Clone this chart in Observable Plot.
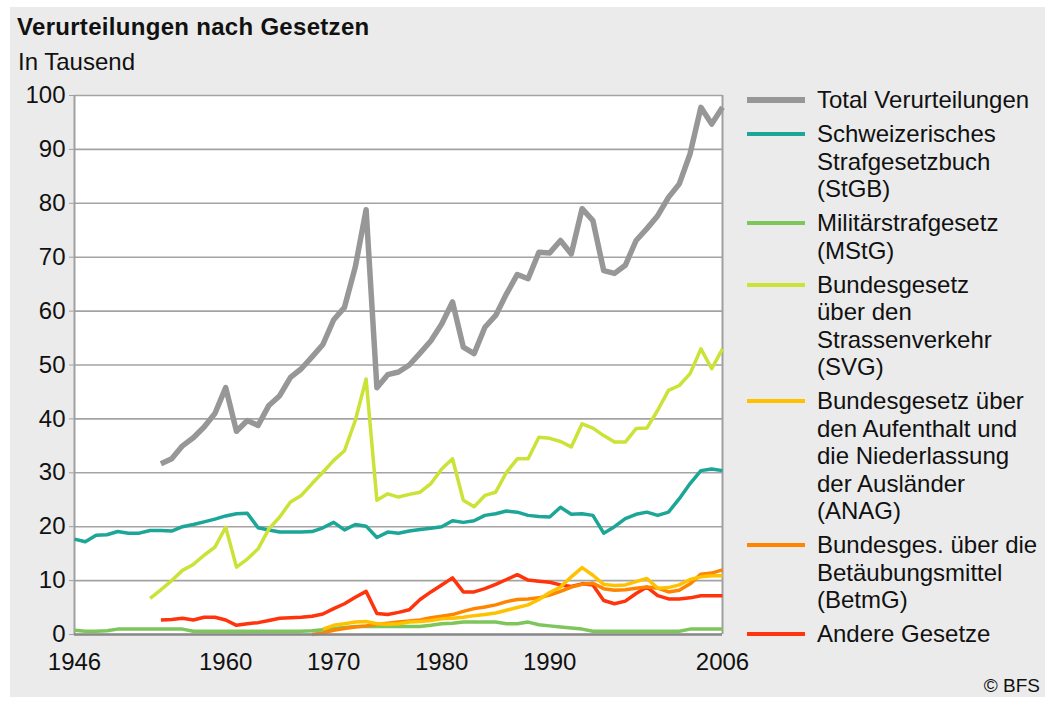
<!DOCTYPE html>
<html>
<head>
<meta charset="utf-8">
<script src="https://cdn.jsdelivr.net/npm/d3@7"></script>
<script src="https://cdn.jsdelivr.net/npm/@observablehq/plot@0.6"></script>
<style>
  html, body { margin: 0; padding: 0; background: #ffffff; }
  body { width: 1050px; height: 702px; position: relative; overflow: hidden;
         font-family: "Liberation Sans", Arial, sans-serif; color: #111; }
  #box { position: absolute; left: 10px; top: 7px; width: 1035px; height: 690px; background: #ebebeb; }
  #chart { position: absolute; left: 0; top: 0; }
  .title { position: absolute; left: 17px; top: 15px; font-size: 24px; line-height: 24px; font-weight: bold; letter-spacing: 0.3px; white-space: nowrap; }
  .subtitle { position: absolute; left: 18px; top: 50px; font-size: 24px; line-height: 24px; white-space: nowrap; }
  #legend { position: absolute; left: 747px; top: 86px; }
  .entry { display: flex; align-items: flex-start; margin-bottom: 6.5px; }
  .sw { width: 58px; margin-right: 12px; flex: none; }
  .lbl { font-size: 24px; line-height: 27.5px; white-space: nowrap; }
  .credit { position: absolute; right: 10px; top: 676px; font-size: 19px; line-height: 19px; white-space: nowrap; }
</style>
</head>
<body>
<div id="box"></div>
<div id="chart"></div>
<div class="title">Verurteilungen nach Gesetzen</div>
<div class="subtitle">In Tausend</div>
<div id="legend"></div>
<div class="credit">© BFS</div>
<script>
const years = [1946,1947,1948,1949,1950,1951,1952,1953,1954,1955,1956,1957,1958,1959,1960,1961,1962,1963,1964,1965,
  1966,1967,1968,1969,1970,1971,1972,1973,1974,1975,1976,1977,1978,1979,1980,1981,1982,1983,1984,1985,
  1986,1987,1988,1989,1990,1991,1992,1993,1994,1995,1996,1997,1998,1999,2000,2001,2002,2003,2004,2005,2006];

const xTicks = [1946, 1960, 1970, 1980, 1990, 2006];
const yTicks = [0, 10, 20, 30, 40, 50, 60, 70, 80, 90, 100];

const seriesNames = [
  "Total Verurteilungen",
  "Schweizerisches Strafgesetzbuch (StGB)",
  "Militärstrafgesetz (MStG)",
  "Bundesgesetz über den Strassenverkehr (SVG)",
  "Bundesgesetz über den Aufenthalt und die Niederlassung der Ausländer (ANAG)",
  "Bundesges. über die Betäubungsmittel (BetmG)",
  "Andere Gesetze"
];
const legendLines = [
  ["Total Verurteilungen"],
  ["Schweizerisches", "Strafgesetzbuch", "(StGB)"],
  ["Militärstrafgesetz", "(MStG)"],
  ["Bundesgesetz", "über den", "Strassenverkehr", "(SVG)"],
  ["Bundesgesetz über", "den Aufenthalt und", "die Niederlassung", "der Ausländer", "(ANAG)"],
  ["Bundesges. über die", "Betäubungsmittel", "(BetmG)"],
  ["Andere Gesetze"]
];
const colors = ["#979797", "#1ba697", "#7cc65c", "#cbe236", "#ffc200", "#ff8400", "#ff340c"];
const widths = [5.5, 3.5, 3.5, 3.5, 3.5, 3.5, 3.5];

const _ = null;
// values in thousands, one per year 1946–2006 (null = no data)
const total = [_,_,_,_,_,_,_,_,
  31.7, 32.6, 35.0, 36.5, 38.5, 41.0, 45.8, 37.7, 39.7, 38.8,
  42.5, 44.3, 47.7, 49.3, 51.5, 53.8, 58.4, 60.7, 68.2, 78.8,
  45.8, 48.2, 48.7, 50.0, 52.2, 54.5, 57.6, 61.7, 53.3, 52.1,
  57.0, 59.2, 63.2, 66.8, 66.0, 70.9, 70.8, 73.1, 70.6, 79.0,
  76.8, 67.5, 67.0, 68.5, 73.1, 75.3, 77.7, 81.1, 83.6, 89.2,
  97.8, 94.7, 97.8];
const stgb = [17.7, 17.2, 18.4, 18.5, 19.1, 18.8, 18.8, 19.3,
  19.3, 19.2, 20.0, 20.4, 20.9, 21.4, 22.0, 22.4, 22.5, 19.8,
  19.4, 19.0, 19.0, 19.0, 19.1, 19.8, 20.8, 19.4, 20.4, 20.1,
  18.0, 19.0, 18.8, 19.2, 19.5, 19.7, 20.0, 21.1, 20.8, 21.1,
  22.1, 22.4, 22.9, 22.7, 22.1, 21.9, 21.8, 23.6, 22.3, 22.4,
  22.1, 18.8, 20.0, 21.5, 22.3, 22.7, 22.1, 22.7, 25.2, 28.0,
  30.4, 30.7, 30.4];
const mstg = [0.8, 0.6, 0.6, 0.7, 1.0, 1.0, 1.0, 1.0,
  1.0, 1.0, 1.0, 0.6, 0.6, 0.6, 0.6, 0.6, 0.6, 0.6,
  0.6, 0.6, 0.6, 0.6, 0.7, 0.9, 1.1, 1.3, 1.5, 1.5,
  1.5, 1.5, 1.5, 1.5, 1.5, 1.7, 2.0, 2.1, 2.3, 2.3,
  2.3, 2.3, 2.0, 2.0, 2.3, 1.8, 1.6, 1.4, 1.2, 1.0,
  0.6, 0.6, 0.6, 0.6, 0.6, 0.6, 0.6, 0.6, 0.6, 1.0,
  1.0, 1.0, 1.0];
const svg = [_,_,_,_,_,_,_,
  6.7,
  8.3, 10.0, 11.9, 13.0, 14.7, 16.2, 19.9, 12.5, 14.0, 15.9,
  19.6, 21.8, 24.6, 25.8, 28.0, 30.1, 32.3, 34.1, 39.7, 47.4,
  24.9, 26.1, 25.5, 26.0, 26.4, 28.0, 30.7, 32.6, 24.9, 23.7,
  25.8, 26.4, 30.1, 32.6, 32.6, 36.6, 36.4, 35.8, 34.8, 39.1,
  38.3, 36.9, 35.7, 35.7, 38.2, 38.3, 41.6, 45.3, 46.2, 48.4,
  53.0, 49.3, 53.0];
const anag = [_,_,_,_,_,_,_,_,_,_,_,_,_,_,_,_,_,_,_,_,_,_,_,
  1.0, 1.7, 2.0, 2.3, 2.4,
  2.0, 1.9, 2.0, 2.3, 2.4, 2.6, 2.9, 3.0, 3.2, 3.5,
  3.7, 4.0, 4.5, 5.0, 5.5, 6.5, 7.8, 8.8, 10.7, 12.4,
  11.0, 9.3, 9.1, 9.2, 9.8, 10.4, 8.6, 8.7, 9.2, 10.2,
  10.7, 10.9, 10.9];
const betmg = [_,_,_,_,_,_,_,_,_,_,_,_,_,_,_,_,_,_,_,_,_,_,
  0.0, 0.3, 0.8, 1.1, 1.4, 1.6,
  1.9, 2.1, 2.3, 2.5, 2.7, 3.1, 3.4, 3.7, 4.3, 4.8,
  5.1, 5.5, 6.1, 6.5, 6.6, 6.8, 7.3, 8.0, 8.8, 9.3,
  9.5, 8.5, 8.2, 8.3, 8.6, 8.8, 8.6, 7.9, 8.2, 9.4,
  11.2, 11.4, 12.0];
const andere = [_,_,_,_,_,_,_,_,
  2.7, 2.8, 3.0, 2.7, 3.2, 3.2, 2.7, 1.7, 2.0, 2.2,
  2.6, 3.0, 3.1, 3.2, 3.4, 3.8, 4.8, 5.7, 6.9, 8.0,
  3.9, 3.7, 4.1, 4.6, 6.5, 7.9, 9.2, 10.5, 7.9, 7.9,
  8.5, 9.3, 10.2, 11.1, 10.1, 9.9, 9.7, 9.2, 8.9, 9.4,
  9.2, 6.3, 5.7, 6.2, 7.6, 8.8, 7.2, 6.6, 6.6, 6.8,
  7.2, 7.2, 7.2];

const seriesValues = [total, stgb, mstg, svg, anag, betmg, andere];
// drawing order (bottom to top)
const drawOrder = [2, 6, 5, 4, 1, 3, 0];

const rows = i => years.map((year, j) => ({year, value: seriesValues[i][j]}));

const font = "'Liberation Sans', Arial, sans-serif";

const plot = Plot.plot({
  width: 1050,
  height: 702,
  marginLeft: 74,
  marginRight: 328,
  marginTop: 95,
  marginBottom: 68,
  style: {fontFamily: font, fontSize: "24px", background: "transparent", color: "#111"},
  x: {domain: [1946, 2006], label: null},
  y: {domain: [0, 100], label: null},
  marks: [
    Plot.frame({fill: "white", stroke: null}),
    Plot.gridY(yTicks, {stroke: "#a3a3a3", strokeOpacity: 1, strokeWidth: 1.6}),
    Plot.ruleX([1946, 2006], {stroke: "#a0a0a0", strokeWidth: 2}),
    Plot.axisY({ticks: yTicks, tickSize: 5, tickPadding: 4, stroke: "#a0a0a0", fontSize: 24, label: null, tickFormat: d => String(d)}),
    Plot.axisX({ticks: xTicks, tickSize: 0, tickPadding: 18, fontSize: 24, label: null, tickFormat: d => String(d)}),
    ...drawOrder.map(i => Plot.line(rows(i), {
      x: "year", y: "value", stroke: colors[i], strokeWidth: widths[i],
      strokeLinejoin: "round", strokeLinecap: "butt"
    })),
    Plot.ruleY([0], {stroke: "#8a8a8a", strokeWidth: 2.5})
  ]
});
document.getElementById("chart").appendChild(plot);

const legend = document.getElementById("legend");
seriesNames.forEach((name, i) => {
  const e = document.createElement("div");
  e.className = "entry";
  e.title = name;
  const sw = document.createElement("div");
  sw.className = "sw";
  const h = i === 0 ? 6 : 4;
  sw.style.height = h + "px";
  sw.style.marginTop = (14 - h / 2) + "px";
  sw.style.background = colors[i];
  const lbl = document.createElement("div");
  lbl.className = "lbl";
  lbl.innerHTML = legendLines[i].join("<br>");
  e.appendChild(sw);
  e.appendChild(lbl);
  legend.appendChild(e);
});
</script>
</body>
</html>
